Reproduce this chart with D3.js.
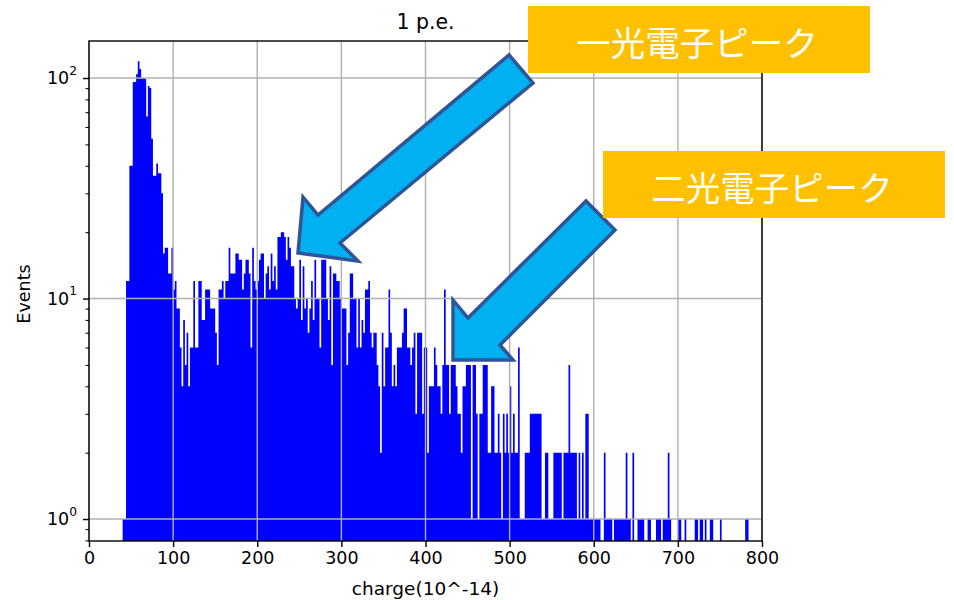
<!DOCTYPE html>
<html>
<head>
<meta charset="utf-8">
<script src="https://cdn.jsdelivr.net/npm/d3@7"></script>
<style>
  body { margin: 0; background: #ffffff; }
  svg { display: block; font-family: "DejaVu Sans", sans-serif; }
</style>
</head>
<body>
<svg id="chart" width="954" height="600"></svg>
<script>
// Charge histogram: counts per 2-unit bin, first bin starts at 40
const binStart = 40;
const binWidth = 2;
const counts = [
  1, 1, 12, 12, 40, 40, 96, 96, 104, 119,
  110, 100, 100, 99, 67, 92, 90, 53, 36, 36,
  41, 37, 37, 30, 16, 17, 17, 13, 13, 17,
  11, 12, 9, 9, 6, 4, 8, 5, 7, 4,
  6, 6, 12, 6, 6, 12, 12, 8, 8, 11,
  11, 11, 9, 9, 9, 7, 5, 11, 11, 12,
  10, 12, 12, 17, 13, 13, 13, 16, 16, 15,
  15, 11, 13, 15, 15, 13, 6, 17, 12, 11,
  12, 15, 16, 16, 10, 13, 14, 11, 16, 12,
  14, 11, 19, 19, 20, 20, 19, 15, 19, 17,
  14, 14, 10, 9, 10, 15, 8, 14, 9, 10,
  7, 9, 12, 8, 15, 10, 10, 6, 15, 15,
  15, 10, 8, 14, 5, 13, 13, 12, 12, 10,
  9, 9, 9, 5, 7, 13, 13, 10, 10, 6,
  10, 6, 8, 7, 11, 11, 12, 7, 6, 7,
  7, 5, 4, 2, 7, 4, 6, 6, 11, 7,
  4, 5, 4, 6, 6, 6, 7, 9, 9, 6,
  6, 5, 6, 7, 3, 7, 7, 7, 3, 6,
  6, 2, 4, 4, 4, 6, 5, 4, 4, 3,
  5, 11, 5, 5, 3, 5, 5, 5, 4, 3,
  3, 2, 4, 4, 5, 5, 5, 1, 5, 5,
  3, 1, 3, 3, 5, 5, 5, 2, 2, 4,
  4, 2, 2, 3, 2, 1, 3, 2, 3, 2,
  4, 2, 3, 2, 2, 6, 1, 1, 1, 2,
  2, 2, 3, 3, 3, 3, 3, 3, 3, 1,
  1, 2, 2, 1, 1, 1, 2, 2, 2, 2,
  2, 1, 2, 2, 2, 5, 2, 2, 2, 2,
  1, 2, 1, 2, 1, 3, 3, 1, 1, 1,
  1, 1, 1, 1, 0, 0, 2, 1, 1, 1,
  1, 0, 1, 1, 1, 1, 1, 1, 1, 2,
  1, 1, 0, 2, 0, 0, 1, 1, 1, 1,
  0, 0, 1, 1, 0, 0, 0, 1, 1, 1,
  0, 1, 1, 1, 2, 1, 0, 0, 0, 0,
  1, 1, 0, 0, 1, 0, 0, 0, 0, 0,
  1, 1, 0, 1, 1, 0, 1, 0, 0, 1,
  1, 0, 0, 0, 0, 1, 0, 0, 0, 0,
  0, 0, 0, 0, 0, 0, 0, 0, 0, 0,
  1, 1, 0, 0, 0
];

const xTicks = [0, 100, 200, 300, 400, 500, 600, 700, 800];
const yTicks = [1, 10, 100];
const yTickExponents = ["0", "1", "2"];
const yMinorTicks = [0.8, 0.9, 2, 3, 4, 5, 6, 7, 8, 9, 20, 30, 40, 50, 60, 70, 80, 90];
const xDomain = [0, 800];
const yDomain = [0.795, 147.2];

const chartTitle = "1 p.e.";
const xLabel = "charge(10^-14)";
const yLabel = "Events";
const calloutLabels = ["一光電子ピーク", "二光電子ピーク"];

// ---- layout ----
const W = 954, H = 600;
const plot = { left: 89, right: 762, top: 41, bottom: 541 };
const tickFont = 17.5;

const svg = d3.select("#chart");
svg.append("rect").attr("width", W).attr("height", H).attr("fill", "#ffffff");

const x = d3.scaleLinear().domain(xDomain).range([plot.left, plot.right]);
const y = d3.scaleLog().domain(yDomain).range([plot.bottom, plot.top]);

const bins = counts.map((c, i) => ({
  x0: binStart + i * binWidth,
  x1: binStart + (i + 1) * binWidth,
  count: c
}));

svg.append("defs").append("clipPath").attr("id", "plotClip")
  .append("rect")
  .attr("x", plot.left).attr("y", plot.top)
  .attr("width", plot.right - plot.left).attr("height", plot.bottom - plot.top);

// histogram bars as one path so that neighbouring bins join without seams;
// each bar runs down to the lower edge of the log axis
const barPath = d3.path();
bins.filter(b => b.count > 0).forEach(b => {
  barPath.rect(x(b.x0), y(b.count), x(b.x1) - x(b.x0), plot.bottom - y(b.count));
});
svg.append("g").attr("clip-path", "url(#plotClip)")
  .append("path")
  .attr("d", barPath.toString())
  .attr("fill", "#0000ff")
  .attr("fill-rule", "nonzero");

// grid on top of the bars
const grid = svg.append("g").attr("stroke", "#b0b0b0").attr("stroke-width", 1.4);
grid.selectAll("line.gx").data(xTicks).join("line")
  .attr("class", "gx")
  .attr("x1", d => x(d)).attr("x2", d => x(d))
  .attr("y1", plot.top).attr("y2", plot.bottom);
grid.selectAll("line.gy").data(yTicks).join("line")
  .attr("class", "gy")
  .attr("x1", plot.left).attr("x2", plot.right)
  .attr("y1", d => y(d)).attr("y2", d => y(d));

// axes
const xAxis = svg.append("g")
  .attr("transform", `translate(0,${plot.bottom})`)
  .call(d3.axisBottom(x).tickValues(xTicks).tickFormat(d3.format("d"))
    .tickSize(6).tickPadding(5));
xAxis.select(".domain").remove();
xAxis.selectAll(".tick line").attr("stroke", "#000").attr("stroke-width", 1.4);
xAxis.selectAll(".tick text")
  .attr("fill", "#000").style("font-size", tickFont + "px")
  .style("font-family", "DejaVu Sans, sans-serif");

const yMinor = svg.append("g")
  .attr("transform", `translate(${plot.left},0)`)
  .call(d3.axisLeft(y).tickValues(yMinorTicks).tickFormat("").tickSize(3.5));
yMinor.select(".domain").remove();
yMinor.selectAll(".tick line").attr("stroke", "#000").attr("stroke-width", 1.05);

const yAxis = svg.append("g")
  .attr("transform", `translate(${plot.left},0)`)
  .call(d3.axisLeft(y).tickValues(yTicks).tickSize(6).tickPadding(6));
yAxis.select(".domain").remove();
yAxis.selectAll(".tick line").attr("stroke", "#000").attr("stroke-width", 1.4);
yAxis.selectAll(".tick text").each(function (d, i) {
  const t = d3.select(this);
  t.text(null)
    .attr("fill", "#000")
    .style("font-family", "DejaVu Sans, sans-serif")
    .style("font-size", tickFont + "px");
  t.append("tspan").text("10");
  t.append("tspan").text(yTickExponents[i])
    .style("font-size", (tickFont * 0.7) + "px")
    .attr("dy", "-0.75em");
});

// spines
svg.append("rect")
  .attr("x", plot.left).attr("y", plot.top)
  .attr("width", plot.right - plot.left).attr("height", plot.bottom - plot.top)
  .attr("fill", "none").attr("stroke", "#000").attr("stroke-width", 1.4);

// title and axis labels
svg.append("text")
  .attr("x", (plot.left + plot.right) / 2).attr("y", 29)
  .attr("text-anchor", "middle")
  .style("font-size", "20.5px").attr("fill", "#000")
  .text(chartTitle);

svg.append("text")
  .attr("x", (plot.left + plot.right) / 2).attr("y", 595)
  .attr("text-anchor", "middle")
  .style("font-size", "18.5px").attr("fill", "#000")
  .text(xLabel);

svg.append("text")
  .attr("transform", `translate(30,${(plot.top + plot.bottom) / 2 + 3}) rotate(-90)`)
  .attr("text-anchor", "middle")
  .style("font-size", tickFont + "px").attr("fill", "#000")
  .text(yLabel);

// callout arrows pointing at the two peaks
const arrowShapes = [
  [[509, 55], [533, 83], [340, 243], [358, 261], [298, 253], [303, 197], [318, 215]],
  [[586, 201], [615, 230], [500, 345], [513, 360], [453, 360], [453, 300], [468, 318]]
];
const arrowLine = d3.line().curve(d3.curveLinearClosed);
svg.append("g").selectAll("path").data(arrowShapes).join("path")
  .attr("d", d => arrowLine(d))
  .attr("fill", "#00b0f0")
  .attr("stroke", "#2f5597")
  .attr("stroke-width", 3.5)
  .attr("stroke-linejoin", "miter");

// callout boxes
const boxes = [
  { x: 528, y: 6, w: 342, h: 67 },
  { x: 603, y: 151, w: 342, h: 67 }
];
const boxG = svg.append("g").selectAll("g").data(boxes).join("g");
boxG.append("rect")
  .attr("x", d => d.x).attr("y", d => d.y)
  .attr("width", d => d.w).attr("height", d => d.h)
  .attr("fill", "#ffc000");
boxG.append("text")
  .attr("x", d => d.x + d.w / 2 - 2)
  .attr("y", d => d.y + d.h / 2 + 1)
  .attr("text-anchor", "middle")
  .attr("dominant-baseline", "central")
  .style("font-family", "'Noto Sans CJK JP', sans-serif")
  .style("font-size", "34.5px")
  .attr("fill", "#ffffff")
  .text((d, i) => calloutLabels[i]);
</script>
</body>
</html>
